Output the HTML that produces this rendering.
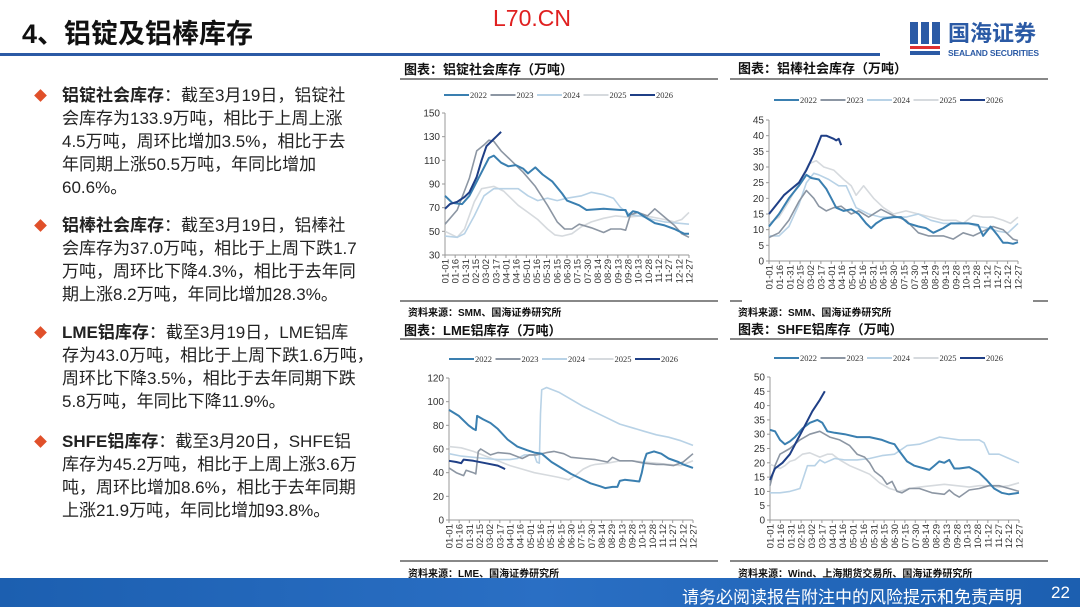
<!DOCTYPE html>
<html><head><meta charset="utf-8">
<style>
*{margin:0;padding:0;box-sizing:border-box}
body{width:1080px;height:607px;overflow:hidden;background:#fff;font-family:"Liberation Sans","Noto Sans CJK SC",sans-serif;position:relative}
.abs{position:absolute}
.title{left:22px;top:12px;font-size:27px;font-weight:bold;color:#111;letter-spacing:0px}
.wm{left:493px;top:5px;font-size:23px;color:#e02020;font-family:"Liberation Sans",sans-serif}
.topline{left:0;top:53px;width:880px;height:3px;background:#2b5aa5}
.item{left:62px;font-size:17px;line-height:23px;color:#222;white-space:nowrap}
.item b{font-weight:bold}
.dia{width:9px;height:9px;background:#e0502a;transform:rotate(45deg)}
.ct{font-size:13px;font-weight:bold;color:#111}
.hl{height:2px;background:#888}
.src{font-size:10px;font-weight:bold;color:#111}
.footer{left:0;top:578px;width:1080px;height:29px;background:linear-gradient(90deg,#1c5fb0,#2a6fc4 50%,#1c5fb0)}
.ft{right:58px;top:583px;color:#fff;font-size:17px}
.pg{left:1051px;top:583px;color:#fff;font-size:17px}
</style></head><body>
<div class="abs title">4、铝锭及铝棒库存</div>
<div class="abs wm">L70.CN</div>
<div class="abs topline"></div>
<!-- logo -->
<div class="abs" style="left:910px;top:22px;width:32px;height:34px">
 <div class="abs" style="left:0;top:0;width:8px;height:22px;background:#2b5aa5"></div>
 <div class="abs" style="left:11px;top:0;width:8px;height:22px;background:#2b5aa5"></div>
 <div class="abs" style="left:22px;top:0;width:8px;height:22px;background:#2b5aa5"></div>
 <div class="abs" style="left:0;top:24px;width:30px;height:3px;background:#e03030"></div>
 <div class="abs" style="left:0;top:29px;width:30px;height:4px;background:#2b5aa5"></div>
</div>
<div class="abs" style="left:948px;top:22px;font-size:22px;line-height:24px;font-weight:bold;color:#2b5aa5">国海证券</div>
<div class="abs" style="left:948px;top:48px;font-size:8.5px;font-weight:bold;color:#2b5aa5;letter-spacing:-0.2px">SEALAND SECURITIES</div>

<div class="abs dia" style="left:36px;top:91px"></div>
<div class="abs item" style="top:84px"><b>铝锭社会库存</b>：截至3月19日，铝锭社<br>会库存为133.9万吨，相比于上周上涨<br>4.5万吨，周环比增加3.5%，相比于去<br>年同期上涨50.5万吨，年同比增加<br>60.6%。</div>
<div class="abs dia" style="left:36px;top:221px"></div>
<div class="abs item" style="top:214px"><b>铝棒社会库存</b>：截至3月19日，铝棒社<br>会库存为37.0万吨，相比于上周下跌1.7<br>万吨，周环比下降4.3%，相比于去年同<br>期上涨8.2万吨，年同比增加28.3%。</div>
<div class="abs dia" style="left:36px;top:328px"></div>
<div class="abs item" style="top:321px"><b>LME铝库存</b>：截至3月19日，LME铝库<br>存为43.0万吨，相比于上周下跌1.6万吨，<br>周环比下降3.5%，相比于去年同期下跌<br>5.8万吨，年同比下降11.9%。</div>
<div class="abs dia" style="left:36px;top:437px"></div>
<div class="abs item" style="top:430px"><b>SHFE铝库存</b>：截至3月20日，SHFE铝<br>库存为45.2万吨，相比于上周上涨3.6万<br>吨，周环比增加8.6%，相比于去年同期<br>上涨21.9万吨，年同比增加93.8%。</div>

<div class="abs ct" style="left:404px;top:59px">图表：铝锭社会库存（万吨）</div>
<div class="abs hl" style="left:400px;top:78px;width:318px"></div>
<div class="abs hl" style="left:400px;top:300px;width:318px"></div>
<div class="abs src" style="left:408px;top:304px">资料来源：SMM、国海证券研究所</div>

<div class="abs ct" style="left:738px;top:58px">图表：铝棒社会库存（万吨）</div>
<div class="abs hl" style="left:730px;top:78px;width:318px"></div>
<div class="abs hl" style="left:730px;top:300px;width:12px"></div>
<div class="abs hl" style="left:1033px;top:300px;width:15px"></div>
<div class="abs src" style="left:738px;top:304px">资料来源：SMM、国海证券研究所</div>

<div class="abs ct" style="left:404px;top:320px">图表：LME铝库存（万吨）</div>
<div class="abs hl" style="left:400px;top:338px;width:318px"></div>
<div class="abs hl" style="left:400px;top:560px;width:318px"></div>
<div class="abs src" style="left:408px;top:565px">资料来源：LME、国海证券研究所</div>

<div class="abs ct" style="left:738px;top:319px">图表：SHFE铝库存（万吨）</div>
<div class="abs hl" style="left:730px;top:338px;width:318px"></div>
<div class="abs hl" style="left:730px;top:560px;width:318px"></div>
<div class="abs src" style="left:738px;top:565px">资料来源：Wind、上海期货交易所、国海证券研究所</div>

<svg id="s" class="abs" style="left:0;top:0" width="1080" height="607"></svg>

<div class="abs footer"></div>
<div class="abs ft">请务必阅读报告附注中的风险提示和免责声明</div>
<div class="abs pg">22</div>

<script>
const C=['#3a7fb0','#8c96a3','#b8d2e6','#d6dade','#1f3f86'];
const W=[2,1.6,1.6,1.6,2];
const labels=['01-01','01-16','01-31','02-15','03-02','03-17','04-01','04-16','05-01','05-16','05-31','06-15','06-30','07-15','07-30','08-14','08-29','09-13','09-28','10-13','10-28','11-12','11-27','12-12','12-27'];
const yrs=['2022','2023','2024','2025','2026'];
let out='';
function chart(o){
 const {x0,x1,yt,yb,vmin,vmax,step,ly,lx,data}=o;
 const Y=v=>yb-(v-vmin)/(vmax-vmin)*(yb-yt);
 const X=f=>x0+f*(x1-x0);
 out+=`<line x1="${x0}" y1="${yt}" x2="${x0}" y2="${yb}" stroke="#999" stroke-width="1"/>`;
 out+=`<line x1="${x0}" y1="${yb}" x2="${x1}" y2="${yb}" stroke="#999" stroke-width="1"/>`;
 for(let v=vmin;v<=vmax+0.001;v+=step){
  out+=`<line x1="${x0-3}" y1="${Y(v)}" x2="${x0}" y2="${Y(v)}" stroke="#999"/>`;
  out+=`<text x="${x0-5}" y="${Y(v)+3.5}" font-size="10" text-anchor="end" fill="#333" font-family="Liberation Sans">${v}</text>`;
 }
 labels.forEach((l,i)=>{const x=X(i/24);
  out+=`<line x1="${x}" y1="${yb}" x2="${x}" y2="${yb+3}" stroke="#999"/>`;
  out+=`<text transform="translate(${x+3.5},${yb+4}) rotate(-90)" font-size="9.5" text-anchor="end" fill="#333" font-family="Liberation Sans">${l}</text>`;});
 yrs.forEach((y,i)=>{const lx0=lx+i*46.5;
  out+=`<line x1="${lx0}" y1="${ly}" x2="${lx0+25}" y2="${ly}" stroke="${C[i]}" stroke-width="2"/>`;
  out+=`<text x="${lx0+26}" y="${ly+3}" font-size="8.5" fill="#333" font-family="Liberation Serif">${y}</text>`;});
 [3,2,1,0,4].forEach(i=>{const p=data[i].map(([f,v])=>X(f).toFixed(1)+','+Y(v).toFixed(1)).join(' ');
  out+=`<polyline points="${p}" fill="none" stroke="${C[i]}" stroke-width="${W[i]}" stroke-linejoin="round"/>`;});
}
chart({x0:445,x1:689,yt:113,yb:255,vmin:30,vmax:150,step:20,ly:95,lx:444,data:[
[[0,80],[.03,74],[.07,73],[.1,80],[.15,100],[.18,112],[.2,114],[.23,108],[.26,105],[.29,106],[.32,103],[.34,99],[.37,104],[.4,98],[.44,92],[.48,82],[.5,76],[.55,72],[.58,68],[.65,69],[.72,68],[.74,68],[.75,63],[.77,67],[.79,66],[.82,62],[.86,57],[.9,55],[.94,52],[.98,48],[1,48]],
[[0,56],[.05,68],[.1,95],[.13,118],[.16,123],[.18,127],[.2,126],[.23,118],[.27,110],[.32,100],[.37,88],[.42,72],[.46,58],[.49,52],[.52,52],[.55,56],[.6,53],[.65,49],[.68,52],[.72,52],[.74,51],[.76,64],[.79,66],[.83,63],[.86,69],[.9,62],[.94,55],[.97,48],[1,45]],
[[0,46],[.05,45],[.08,48],[.12,63],[.16,80],[.2,86],[.24,86],[.3,86],[.34,80],[.38,76],[.42,78],[.46,76],[.5,78],[.56,80],[.6,83],[.65,81],[.69,78],[.72,70],[.76,64],[.8,63],[.85,60],[.9,58],[.95,57],[1,56]],
[[0,50],[.05,45],[.08,52],[.12,75],[.15,86],[.2,88],[.24,84],[.3,72],[.34,66],[.38,60],[.42,52],[.45,47],[.48,46],[.52,48],[.56,54],[.6,58],[.65,61],[.7,63],[.75,62],[.8,63],[.85,62],[.9,60],[.94,58],[.97,60],[1,66]],
[[0,69],[.02,73],[.05,75],[.08,79],[.1,83],[.13,96],[.15,110],[.17,122],[.2,128],[.21,130],[.23,134]]]});
chart({x0:769,x1:1018,yt:120,yb:261,vmin:0,vmax:45,step:5,ly:100,lx:774,data:[
[[0,11],[.04,15],[.08,20],[.12,24],[.15,27.5],[.17,26.5],[.2,26],[.23,23],[.25,20],[.27,17],[.3,16],[.33,16.5],[.36,15],[.39,12],[.41,10.5],[.43,12],[.46,13.5],[.5,14],[.53,14],[.56,12],[.6,11],[.63,10.5],[.66,9],[.7,10.5],[.73,12],[.76,12],[.8,12],[.84,11.5],[.86,8],[.89,11],[.92,8],[.94,5.8],[.96,5.8],[.98,5.5],[1,6]],
[[0,7.5],[.04,9],[.08,13],[.12,19],[.15,22.5],[.18,20],[.2,17.5],[.23,16],[.26,17],[.29,17.5],[.33,15],[.36,16],[.4,14],[.45,16.5],[.5,14.5],[.55,13],[.6,9],[.64,8],[.7,8],[.74,7],[.78,9],[.82,8],[.86,9.5],[.9,11],[.94,10],[.98,7],[1,6.5]],
[[0,8],[.04,8],[.08,11],[.12,18],[.15,25],[.18,28],[.2,27.5],[.24,26],[.28,24],[.31,24],[.35,17],[.4,15],[.45,14],[.5,14],[.55,14],[.6,15],[.65,13],[.7,12],[.75,12],[.8,12],[.84,11],[.88,10.5],[.92,9.5],[.96,9],[1,12]],
[[0,12],[.04,14],[.08,19],[.12,25],[.16,31],[.19,32],[.22,30],[.26,29],[.3,26],[.33,24],[.35,21],[.38,24],[.42,20],[.46,17],[.5,15],[.55,16],[.6,15],[.65,14],[.7,13],[.75,13],[.78,12],[.82,14.5],[.86,14],[.9,14],[.94,13],[.97,12],[1,14]],
[[0,15],[.03,18],[.06,21],[.09,23],[.12,25],[.15,29],[.18,34],[.21,40],[.23,40],[.26,39],[.27,38.5],[.28,39],[.29,37]]]});
chart({x0:449,x1:693,yt:378,yb:520,vmin:0,vmax:120,step:20,ly:359,lx:449,data:[
[[0,93],[.04,88],[.08,80],[.1,77],[.11,76],[.115,88],[.14,85],[.17,82],[.2,77],[.24,68],[.28,62],[.32,59],[.35,57],[.38,56],[.42,49],[.46,44],[.5,39],[.54,35],[.58,31],[.62,28.5],[.64,27],[.67,28],[.69,28],[.7,33],[.72,34],[.76,33],[.78,32.5],[.79,40],[.8,50],[.81,56],[.84,58],[.87,56],[.9,52],[.94,49],[.96,47],[1,44]],
[[0,44],[.03,40],[.06,37.5],[.07,42],[.1,40],[.11,39],[.12,58],[.13,60],[.17,55],[.2,57],[.25,56],[.3,52],[.33,55],[.36,55],[.4,57],[.43,58],[.47,56],[.5,53],[.55,52],[.6,51],[.65,49],[.67,53],[.7,50],[.75,50],[.8,48],[.85,47],[.88,47],[.92,46],[.96,49],[1,56]],
[[0,56],[.05,54],[.1,53],[.15,52],[.2,51],[.25,51],[.28,52],[.31,55],[.35,55],[.36,49],[.37,48],[.375,90],[.38,110],[.4,112],[.45,108],[.5,102],[.55,96],[.6,91],[.65,86],[.7,81],[.75,78],[.8,75],[.85,72],[.9,70],[.95,67],[1,63]],
[[0,62],[.05,61],[.1,58],[.15,54],[.2,50],[.25,46],[.3,43],[.35,40],[.4,38],[.45,36],[.49,34],[.52,38],[.55,43],[.58,46],[.6,47],[.65,48],[.7,50],[.75,50],[.8,49],[.85,48],[.9,47],[.95,46],[1,50]],
[[0,50],[.03,49],[.05,48],[.06,51],[.1,50],[.15,48],[.2,46],[.22,44],[.23,43]]]});
chart({x0:770,x1:1019,yt:377,yb:520,vmin:0,vmax:50,step:5,ly:358,lx:774,data:[
[[0,31.5],[.02,31],[.04,28],[.06,26.5],[.08,27.5],[.1,29],[.13,32],[.16,34],[.19,35],[.21,34],[.23,31],[.26,30.5],[.3,30],[.35,29],[.4,29],[.45,28],[.48,27],[.5,26.5],[.52,24],[.55,20.5],[.58,19],[.62,18],[.64,17.5],[.66,19],[.68,20.5],[.7,20],[.72,21],[.74,18],[.76,18],[.8,18.5],[.84,16.5],[.87,14],[.9,11],[.93,9.5],[.96,9],[1,9.5]],
[[0,12],[.02,19],[.04,23],[.08,25],[.12,28],[.16,30],[.2,31],[.24,29],[.28,28],[.32,26],[.35,23],[.38,22],[.4,20],[.42,17],[.45,15],[.47,12.5],[.49,13.5],[.51,10],[.53,9.5],[.56,11],[.6,11],[.65,9.5],[.7,9],[.72,10.5],[.74,9],[.76,8],[.8,10.5],[.84,11],[.88,12],[.92,12],[.96,11],[1,10]],
[[0,9.5],[.04,9.5],[.08,10],[.1,10.5],[.12,11],[.15,19],[.18,19],[.2,21],[.22,20],[.26,21.5],[.3,21],[.35,21],[.4,21.5],[.45,22.5],[.5,23],[.55,26],[.6,26.5],[.65,28],[.68,29],[.72,28.5],[.76,28],[.8,28],[.84,28],[.86,27],[.88,23],[.92,23],[.96,21.5],[1,20]],
[[0,19.5],[.04,18],[.06,19],[.08,20.5],[.1,21],[.13,23],[.16,23.5],[.2,22],[.23,23],[.25,23],[.28,21],[.32,19],[.36,17.5],[.4,16],[.44,13],[.48,11],[.52,10],[.56,11],[.6,11.5],[.65,12],[.7,12.5],[.75,12],[.8,11.5],[.84,12],[.88,12],[.92,11.5],[.96,12],[1,13]],
[[0,14],[.02,18],[.05,20],[.08,23],[.11,28],[.14,33],[.17,38],[.2,42],[.22,45]]]});
document.getElementById('s').innerHTML=out;
</script>
</body></html>
